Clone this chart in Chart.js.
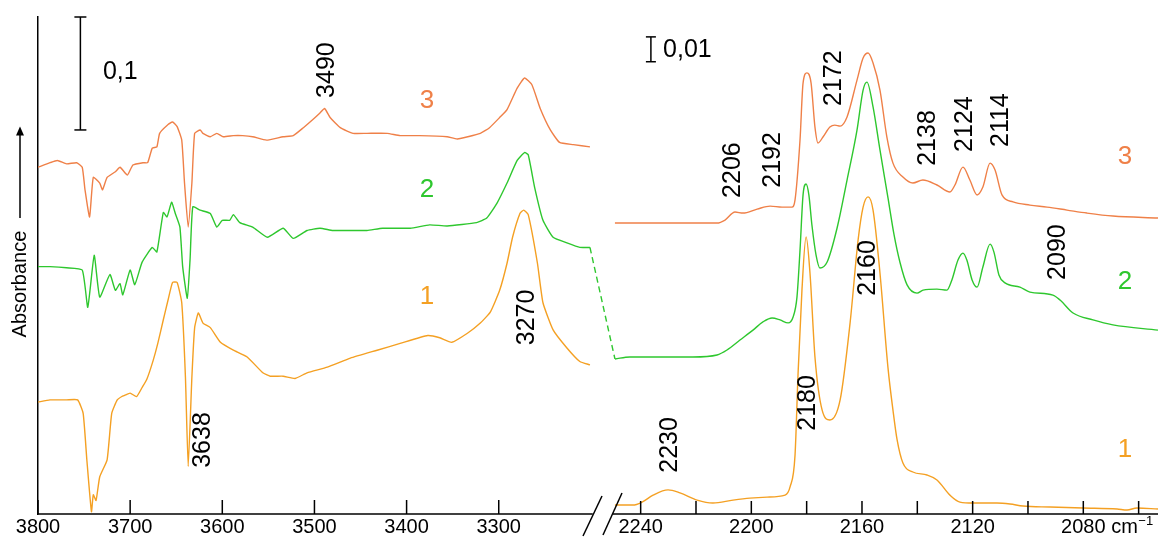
<!DOCTYPE html>
<html>
<head>
<meta charset="utf-8">
<script src="https://cdn.jsdelivr.net/npm/chart.js@4.4.1/dist/chart.umd.min.js"></script>
<style>
html, body { margin: 0; padding: 0; background: #fff; }
canvas { display: block; }
</style>
</head>
<body>
<canvas id="ir" width="1158" height="537"></canvas>
<script>
const FONT = "'Liberation Sans', Arial, sans-serif";
const C1 = "#F4A023", C2 = "#2EC72E", C3 = "#EF8048";

// ===== data: [wavenumber (cm-1), absorbance] =====
// O-H region (left panel), 0,1 scale
const left1 = [[3800,.099],[3787,.101],[3769,.101],[3757,.101],[3751,.089],[3747,.048],[3742,.002],[3740,.017],[3737,.012],[3733,.033],[3725,.048],[3720,.089],[3714,.101],[3709,.104],[3706,.105],[3700,.107],[3693,.104],[3687,.112],[3682,.119],[3675,.136],[3670,.151],[3664,.172],[3659,.189],[3654,.205],[3649,.205],[3644,.187],[3640,.121],[3637,.042],[3633,.121],[3630,.165],[3626,.178],[3621,.169],[3613,.165],[3602,.152],[3588,.145],[3573,.139],[3556,.125],[3548,.122],[3534,.122],[3521,.120],[3508,.125],[3486,.130],[3461,.138],[3432,.145],[3407,.151],[3377,.158],[3364,.156],[3351,.152],[3334,.160],[3320,.169],[3309,.179],[3299,.198],[3291,.222],[3285,.245],[3277,.266],[3273,.269],[3268,.265],[3258,.222],[3252,.187],[3241,.163],[3226,.147],[3212,.135],[3201,.132]];
const left2 = [[3800,.219],[3787,.219],[3769,.218],[3752,.216],[3746,.183],[3739,.229],[3733,.192],[3722,.212],[3716,.198],[3711,.204],[3708,.194],[3700,.216],[3695,.203],[3687,.223],[3676,.236],[3671,.232],[3664,.267],[3660,.263],[3655,.276],[3651,.266],[3646,.254],[3643,.219],[3638,.191],[3635,.225],[3632,.272],[3624,.269],[3613,.266],[3606,.254],[3600,.260],[3592,.260],[3588,.265],[3581,.258],[3567,.254],[3551,.245],[3534,.253],[3523,.244],[3508,.251],[3494,.253],[3480,.251],[3461,.251],[3443,.251],[3426,.253],[3396,.253],[3375,.256],[3356,.255],[3324,.258],[3313,.262],[3302,.275],[3291,.293],[3280,.313],[3272,.320],[3268,.318],[3261,.289],[3252,.260],[3241,.245],[3226,.240],[3212,.236],[3201,.236]];
const left3 = [[3800,.307],[3787,.311],[3779,.313],[3769,.310],[3758,.311],[3752,.307],[3749,.287],[3744,.263],[3740,.298],[3733,.293],[3730,.287],[3725,.298],[3716,.303],[3711,.307],[3703,.300],[3697,.309],[3686,.311],[3681,.311],[3676,.324],[3671,.325],[3668,.337],[3660,.344],[3654,.347],[3649,.343],[3644,.331],[3641,.293],[3637,.254],[3633,.293],[3630,.337],[3624,.340],[3621,.337],[3613,.334],[3606,.337],[3599,.334],[3588,.335],[3578,.335],[3567,.334],[3552,.331],[3534,.334],[3523,.335],[3512,.342],[3502,.349],[3494,.355],[3489,.359],[3483,.351],[3472,.342],[3458,.337],[3443,.337],[3421,.337],[3407,.335],[3386,.335],[3356,.334],[3345,.332],[3320,.337],[3310,.342],[3299,.351],[3291,.358],[3280,.377],[3272,.386],[3264,.380],[3255,.359],[3244,.340],[3234,.329],[3219,.327],[3201,.325]];

// C-O region (right panel), 0,01 scale
const right1 = [[2249.3,.0036],[2242.8,.0036],[2239.5,.0048],[2235.5,.0076],[2230.1,.0097],[2225.8,.0085],[2219.6,.0056],[2213.9,.0044],[2206.6,.0056],[2200.5,.0064],[2194.3,.0068],[2187.8,.0076],[2186,.0109],[2184.2,.0237],[2183.1,.0567],[2181.7,.0901],[2180.2,.1115],[2178.8,.0970],[2177,.0632],[2174.4,.0418],[2171.6,.0378],[2167.9,.0459],[2164.3,.0769],[2161.4,.1103],[2159.6,.1235],[2157.8,.1276],[2156,.1223],[2153.5,.0970],[2150.6,.0588],[2148.8,.0418],[2147.3,.0298],[2145.2,.0205],[2141.6,.0169],[2136.5,.0157],[2132.9,.0137],[2128.2,.0076],[2124.6,.0048],[2119.9,.0044],[2111.2,.0044],[2106.5,.0040],[2101.8,.0032],[2092,.0028],[2080.1,.0024],[2067.8,.0020],[2064.2,.0016],[2060.6,.0024],[2053,.0020]];
const right2 = [[2249.3,.0624],[2243.9,.0632],[2234.1,.0632],[2221.1,.0632],[2212.4,.0640],[2208.8,.0660],[2204.1,.0700],[2199.4,.0740],[2195.8,.0773],[2192.5,.0789],[2189.6,.0781],[2186.7,.0769],[2184.9,.0793],[2183.5,.0873],[2182.4,.1062],[2181.3,.1284],[2180.2,.1328],[2179.2,.1284],[2178.1,.1163],[2176.6,.1042],[2175.2,.0990],[2172.6,.1014],[2169,.1151],[2165.4,.1344],[2161.8,.1545],[2159.6,.1706],[2158.2,.1738],[2156,.1638],[2153.5,.1465],[2150.6,.1272],[2148.4,.1123],[2146.3,.1014],[2143.7,.0922],[2140.1,.0889],[2137.9,.0901],[2132.9,.0905],[2129.3,.0901],[2127.5,.0942],[2125.3,.1022],[2123.5,.1050],[2122.1,.1022],[2120.2,.0942],[2118.4,.0913],[2116.3,.0994],[2113.7,.1086],[2112.3,.1054],[2110.5,.0962],[2108.3,.0930],[2102.9,.0913],[2099.3,.0893],[2091,.0881],[2088.4,.0861],[2083.7,.0809],[2076.5,.0781],[2069.3,.0761],[2053,.0740]];
const right3 = [[2249.3,.1171],[2236.6,.1171],[2224.7,.1171],[2212.4,.1171],[2209.5,.1183],[2205.9,.1215],[2203,.1211],[2197.9,.1227],[2193.2,.1239],[2188.9,.1235],[2185.3,.1235],[2184.2,.1264],[2182.4,.1505],[2181.3,.1734],[2179.9,.1775],[2178.4,.1734],[2177,.1557],[2175.9,.1493],[2174.1,.1517],[2171.6,.1557],[2169.8,.1565],[2167.9,.1561],[2165.4,.1598],[2161.8,.1746],[2159.6,.1835],[2157.8,.1855],[2156,.1815],[2153.5,.1706],[2151,.1517],[2148.8,.1412],[2145.2,.1356],[2141.6,.1332],[2138,.1344],[2132.9,.1324],[2128.2,.1296],[2126.4,.1324],[2123.5,.1396],[2121,.1344],[2118.4,.1284],[2116.3,.1316],[2113.7,.1412],[2111.9,.1384],[2109.4,.1284],[2105.4,.1256],[2099.3,.1243],[2093.1,.1235],[2085.9,.1223],[2078.7,.1211],[2069.3,.1199],[2053,.1191]];

// ticks
const tickL = [3800, 3700, 3600, 3500, 3400, 3300];
const tickR = [2240, 2220, 2200, 2180, 2160, 2140, 2120, 2100, 2080, 2060];
const labelR = [2240, 2200, 2160, 2120, 2080];

// band assignments
const bandsL = ["3490", "3638", "3270"];
const bandsR = ["2206", "2192", "2172", "2138", "2124", "2114", "2090", "2160", "2180", "2230"];

// ===== annotation placement (data coords) =====
const notes = [
  // [text, panel, x, y, rotated, color, size]
  [bandsL[0], "L", 3486, .393, true, "#000", 25],
  [bandsL[1], "L", 3621, .0655, true, "#000", 25],
  [bandsL[2], "L", 3269, .174, true, "#000", 25],
  ["3", "L", 3378, .366, false, C3, 26],
  ["2", "L", 3378, .287, false, C2, 26],
  ["1", "L", 3378, .192, false, C1, 26],
  [bandsR[0], "R", 2206.6, .1384, true, "#000", 25],
  [bandsR[1], "R", 2192.2, .1425, true, "#000", 25],
  [bandsR[2], "R", 2170.1, .1754, true, "#000", 25],
  [bandsR[3], "R", 2136.1, .1513, true, "#000", 25],
  [bandsR[4], "R", 2122.8, .1569, true, "#000", 25],
  [bandsR[5], "R", 2109.7, .1585, true, "#000", 25],
  [bandsR[6], "R", 2089.1, .1054, true, "#000", 25],
  [bandsR[7], "R", 2157.8, .0990, true, "#000", 25],
  [bandsR[8], "R", 2179.5, .0447, true, "#000", 25],
  [bandsR[9], "R", 2229.4, .0278, true, "#000", 25],
  ["3", "R", 2064.9, .1437, false, C3, 26],
  ["2", "R", 2064.9, .0934, false, C2, 26],
  ["1", "R", 2064.9, .0258, false, C1, 26]
];

function line(ctx, x1, y1, x2, y2) {
  ctx.beginPath();
  ctx.moveTo(x1, y1);
  ctx.lineTo(x2, y2);
  ctx.stroke();
}

function scaleBar(ctx, x, y1, y2, cap) {
  line(ctx, x, y1, x, y2);
  line(ctx, x - cap, y1, x + cap, y1);
  line(ctx, x - cap, y2, x + cap, y2);
}

const decor = {
  id: "decor",
  afterDraw(chart) {
    const { ctx, scales: { xL, xR, yL, yR } } = chart;
    const bottom = yL.bottom;
    const px = (p, v) => (p === "L" ? xL : xR).getPixelForValue(v);
    const py = (p, v) => (p === "L" ? yL : yR).getPixelForValue(v);

    ctx.save();
    ctx.strokeStyle = "#000";
    ctx.fillStyle = "#000";
    ctx.lineWidth = 1.5;

    // x baseline with break
    line(ctx, xL.left, bottom, px("L", 3198), bottom);
    line(ctx, xR.left, bottom, xR.right, bottom);
    tickL.forEach(v => line(ctx, px("L", v), bottom, px("L", v), bottom - 14));
    tickR.forEach(v => line(ctx, px("R", v), bottom, px("R", v), bottom - 13));
    const b = xR.left;
    line(ctx, b - 30, bottom + 22, b - 11, bottom - 18);
    line(ctx, b - 10, bottom + 21, b + 9, bottom - 21);

    // cm-1 after last label
    ctx.font = "20px " + FONT;
    ctx.textBaseline = "alphabetic";
    ctx.textAlign = "left";
    const cx = px("R", 2080) + 28;
    ctx.fillText("cm", cx, bottom + 19);
    ctx.font = "13px " + FONT;
    ctx.fillText("\u22121", cx + 27, bottom + 11);

    // scale bars
    ctx.lineWidth = 1.5;
    scaleBar(ctx, px("L", 3754), py("L", .34), py("L", .44), 6);
    scaleBar(ctx, px("R", 2236.3), py("R", .182), py("R", .192), 5);
    ctx.font = "25px " + FONT;
    ctx.textBaseline = "middle";
    ctx.fillText("0,1", px("L", 3729.5), py("L", .391));
    ctx.fillText("0,01", px("R", 2231.9), py("R", .1867));

    // y axis title + arrow
    const ax = chart.chartArea.left - 18;
    ctx.save();
    ctx.translate(ax, py("L", .2036));
    ctx.rotate(-Math.PI / 2);
    ctx.font = "20px " + FONT;
    ctx.textAlign = "center";
    ctx.fillText("Absorbance", 0, 0);
    ctx.restore();
    const a1 = py("L", .262), a2 = py("L", .343);
    ctx.lineWidth = 1.5;
    line(ctx, ax, a1, ax, a2 + 6);
    ctx.beginPath();
    ctx.moveTo(ax, a2);
    ctx.lineTo(ax - 4, a2 + 9);
    ctx.lineTo(ax + 4, a2 + 9);
    ctx.closePath();
    ctx.fill();

    // dashed link of trace 2 across the break
    const e = left2[left2.length - 1], s = right2[0];
    ctx.strokeStyle = C2;
    ctx.lineWidth = 1.4;
    ctx.setLineDash([6, 4]);
    line(ctx, px("L", e[0]), py("L", e[1]), px("R", s[0]), py("R", s[1]));
    ctx.setLineDash([]);

    // band labels and trace numbers
    notes.forEach(([t, p, x, y, rot, color, size]) => {
      ctx.save();
      ctx.fillStyle = color;
      ctx.font = size + "px " + FONT;
      ctx.textAlign = "center";
      ctx.textBaseline = "middle";
      ctx.translate(px(p, x), py(p, y));
      if (rot) ctx.rotate(-Math.PI / 2);
      ctx.fillText(t, 0, 0);
      ctx.restore();
    });
    ctx.restore();
  }
};

function trace(data, xAxisID, yAxisID, color, smooth) {
  return {
    data: data.map(p => ({ x: p[0], y: p[1] })),
    xAxisID, yAxisID,
    borderColor: color,
    borderWidth: 1.4,
    pointRadius: 0,
    fill: false,
    tension: smooth ? 0.4 : 0.15,
    cubicInterpolationMode: smooth ? "monotone" : "default"
  };
}

const tickOpts = {
  font: { family: FONT, size: 20 }, color: "#000", padding: -7,
  maxRotation: 0, autoSkip: false, callback: v => String(v)
};

new Chart(document.getElementById("ir"), {
  type: "line",
  data: {
    datasets: [
      trace(left1, "xL", "yL", C1, false),
      trace(left2, "xL", "yL", C2, false),
      trace(left3, "xL", "yL", C3, false),
      trace(right1, "xR", "yR", C1, true),
      trace(right2, "xR", "yR", C2, true),
      trace(right3, "xR", "yR", C3, true)
    ]
  },
  options: {
    responsive: false,
    animation: false,
    devicePixelRatio: 1,
    layout: { padding: { top: 17, left: 0, right: 0, bottom: 0 } },
    plugins: { legend: { display: false }, tooltip: { enabled: false } },
    scales: {
      xL: {
        type: "linear", position: "bottom", stack: "x", stackWeight: 575,
        reverse: true, min: 3176, max: 3800,
        grid: { display: false }, border: { display: false },
        ticks: tickOpts,
        afterBuildTicks: s => { s.ticks = tickL.map(v => ({ value: v })); },
        afterFit: s => { s.height = 23; }
      },
      xR: {
        type: "linear", position: "bottom", stack: "x", stackWeight: 545,
        reverse: true, min: 2053, max: 2250,
        grid: { display: false }, border: { display: false },
        ticks: tickOpts,
        afterBuildTicks: s => { s.ticks = labelR.map(v => ({ value: v })); },
        afterFit: s => { s.height = 23; }
      },
      yL: {
        type: "linear", position: "left", min: 0, max: 0.44,
        grid: { display: false }, ticks: { display: false },
        border: { display: true, color: "#000", width: 1.5 },
        afterFit: s => { s.width = 38; }
      },
      yR: { type: "linear", position: "left", display: false, min: 0, max: 0.2 }
    }
  },
  plugins: [decor]
});
</script>
</body>
</html>
